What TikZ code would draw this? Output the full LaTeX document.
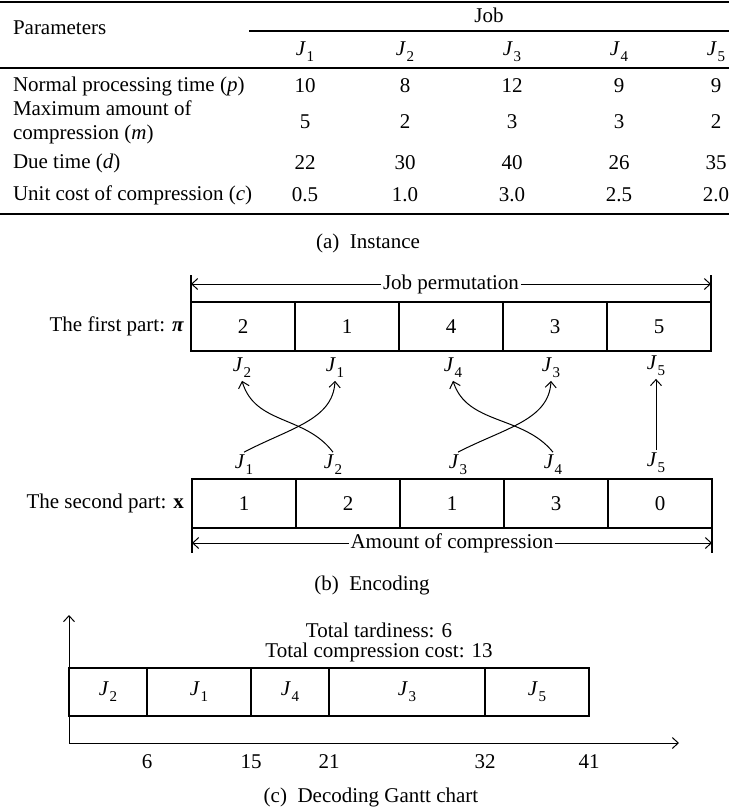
\documentclass[tikz,border=0pt]{standalone}
\usepackage{fontspec}
\setmainfont{Liberation Serif}
\usetikzlibrary{arrows.meta}
% job symbol J with an upright subscript index
\newcommand{\Jsub}[1]{\textit{J}\kern0.4pt\raisebox{-0.28em}{\fontsize{15}{15}\selectfont #1}}
\begin{document}
\begin{tikzpicture}[x=1pt,y=-1pt,
  every node/.style={font=\fontsize{21}{23}\selectfont, inner sep=0pt, outer sep=0pt},
  barb/.style={-{Straight Barb[length=6pt,width=11pt]}},
  rule/.style={line width=1.6pt},
  thinrule/.style={line width=1.1pt},
  cell/.style={draw, line width=1.1pt, minimum width=104pt, minimum height=49pt, anchor=north west},
  gbox/.style={draw, line width=1.1pt, minimum height=48pt, anchor=north west},
  lab/.style={inner sep=3pt},
  link/.style={line width=1pt, barb},
  tag/.style={fill=white, inner xsep=2pt, inner ysep=1pt},
  ]
\useasboundingbox (0,0) rectangle (729,812);

% ---------------- (a) instance table ----------------
\draw[rule] (0,2) -- (729,2);
\node[anchor=west] (par) at (13,28) {Parameters};
\node (job) at (489,15) {Job};
\draw[thinrule] (249,31) -- (729,31);
\foreach \x/\j in {305/1,405/2,512/3,619/4,716/5}
  \node (h\j) at (\x,52) {\Jsub{\j}};
\draw[thinrule] (0,68) -- (729,68);

\node[anchor=west] (rp) at (13,86) {Normal processing time (\textit{p})};
\node[anchor=west, align=left, font=\fontsize{21}{24}\selectfont] (rm) at (13,122) {Maximum amount of\\compression (\textit{m})};
\node[anchor=west] (rd) at (13,163) {Due time (\textit{d})};
\node[anchor=west] (rc) at (13,195) {Unit cost of compression (\textit{c})};

\foreach \x/\j/\p/\m/\d/\c in {305/1/10/5/22/0.5, 405/2/8/2/30/1.0, 512/3/12/3/40/3.0,
                               619/4/9/3/26/2.5, 716/5/9/2/35/2.0} {
  \node (p\j) at (\x,86) {\p};
  \node (m\j) at (\x,122) {\m};
  \node (d\j) at (\x,163) {\d};
  \node (c\j) at (\x,195) {\c};
}
\draw[rule] (0,214) -- (729,214);
\node (capa) at (368,243) {(a)\enspace Instance};

% ---------------- (b) encoding ----------------
\coordinate (jpl) at (191,284);
\coordinate (jpr) at (711,284);
\node[tag] (jp) at (451,284) {Job permutation};
\draw[thinrule] (191,275) -- (191,302);
\draw[thinrule] (711,275) -- (711,302);
\draw[line width=1pt, barb] (jp.west) -- (jpl);
\draw[line width=1pt, barb] (jp.east) -- (jpr);

\node[anchor=east] (fp) at (184,326) {The first part: \textbf{\textit{π}}};
\node[cell] (a1) at (191,302) {2};
\node[cell] (a2) at (295,302) {1};
\node[cell] (a3) at (399,302) {4};
\node[cell] (a4) at (503,302) {3};
\node[cell] (a5) at (607,302) {5};

\node[lab] (t2) at (242,368) {\Jsub{2}};
\node[lab] (t1) at (335,368) {\Jsub{1}};
\node[lab] (t4) at (453,368) {\Jsub{4}};
\node[lab] (t3) at (551,368) {\Jsub{3}};
\node[lab] (t5) at (656,366) {\Jsub{5}};

\node[lab] (b1) at (244,465) {\Jsub{1}};
\node[lab] (b2) at (333,465) {\Jsub{2}};
\node[lab] (b3) at (458,465) {\Jsub{3}};
\node[lab] (b4) at (553,465) {\Jsub{4}};
\node[lab] (b5) at (656,463) {\Jsub{5}};

\draw[link] (b1.north) .. controls (290,428) and (333,420) .. (t1.south);
\draw[link] (b2.north) .. controls (305,415) and (255,425) .. (t2.south);
\draw[link] (b3.north) .. controls (505,428) and (549,420) .. (t3.south);
\draw[link] (b4.north) .. controls (523,415) and (467,425) .. (t4.south);
\draw[link] (b5.north) -- (t5.south);

\node[anchor=east] (sp) at (184,503) {The second part: \textbf{x}};
\node[cell] (x1) at (192,479) {1};
\node[cell] (x2) at (296,479) {2};
\node[cell] (x3) at (400,479) {1};
\node[cell] (x4) at (504,479) {3};
\node[cell] (x5) at (608,479) {0};

\coordinate (acl) at (192,543);
\coordinate (acr) at (712,543);
\node[tag] (ac) at (452,543) {Amount of compression};
\draw[thinrule] (192,528) -- (192,553);
\draw[thinrule] (712,528) -- (712,553);
\draw[line width=1pt, barb] (ac.west) -- (acl);
\draw[line width=1pt, barb] (ac.east) -- (acr);

\node (capb) at (372,585) {(b)\enspace Encoding};

% ---------------- (c) decoding Gantt chart ----------------
\coordinate (o) at (69,743);
\coordinate (ytop) at (69,615);
\coordinate (xend) at (679,743);
\draw[line width=1pt, barb] (o) -- (ytop);
\draw[line width=1pt, barb] (o) -- (xend);

\node[align=center, font=\fontsize{21}{20}\selectfont] (tot) at (379,642)
  {Total tardiness: 6\\Total compression cost: 13};

\node[gbox, minimum width=78pt]  (g2) at (69,668)  {\Jsub{2}};
\node[gbox, minimum width=104pt] (g1) at (147,668) {\Jsub{1}};
\node[gbox, minimum width=78pt]  (g4) at (251,668) {\Jsub{4}};
\node[gbox, minimum width=156pt] (g3) at (329,668) {\Jsub{3}};
\node[gbox, minimum width=104pt] (g5) at (485,668) {\Jsub{5}};

\foreach \x/\v in {147/6, 251/15, 329/21, 485/32, 589/41}
  \node (tick\v) at (\x,762) {\v};

\node (capc) at (371,797) {(c)\enspace Decoding Gantt chart};
\end{tikzpicture}
\end{document}
